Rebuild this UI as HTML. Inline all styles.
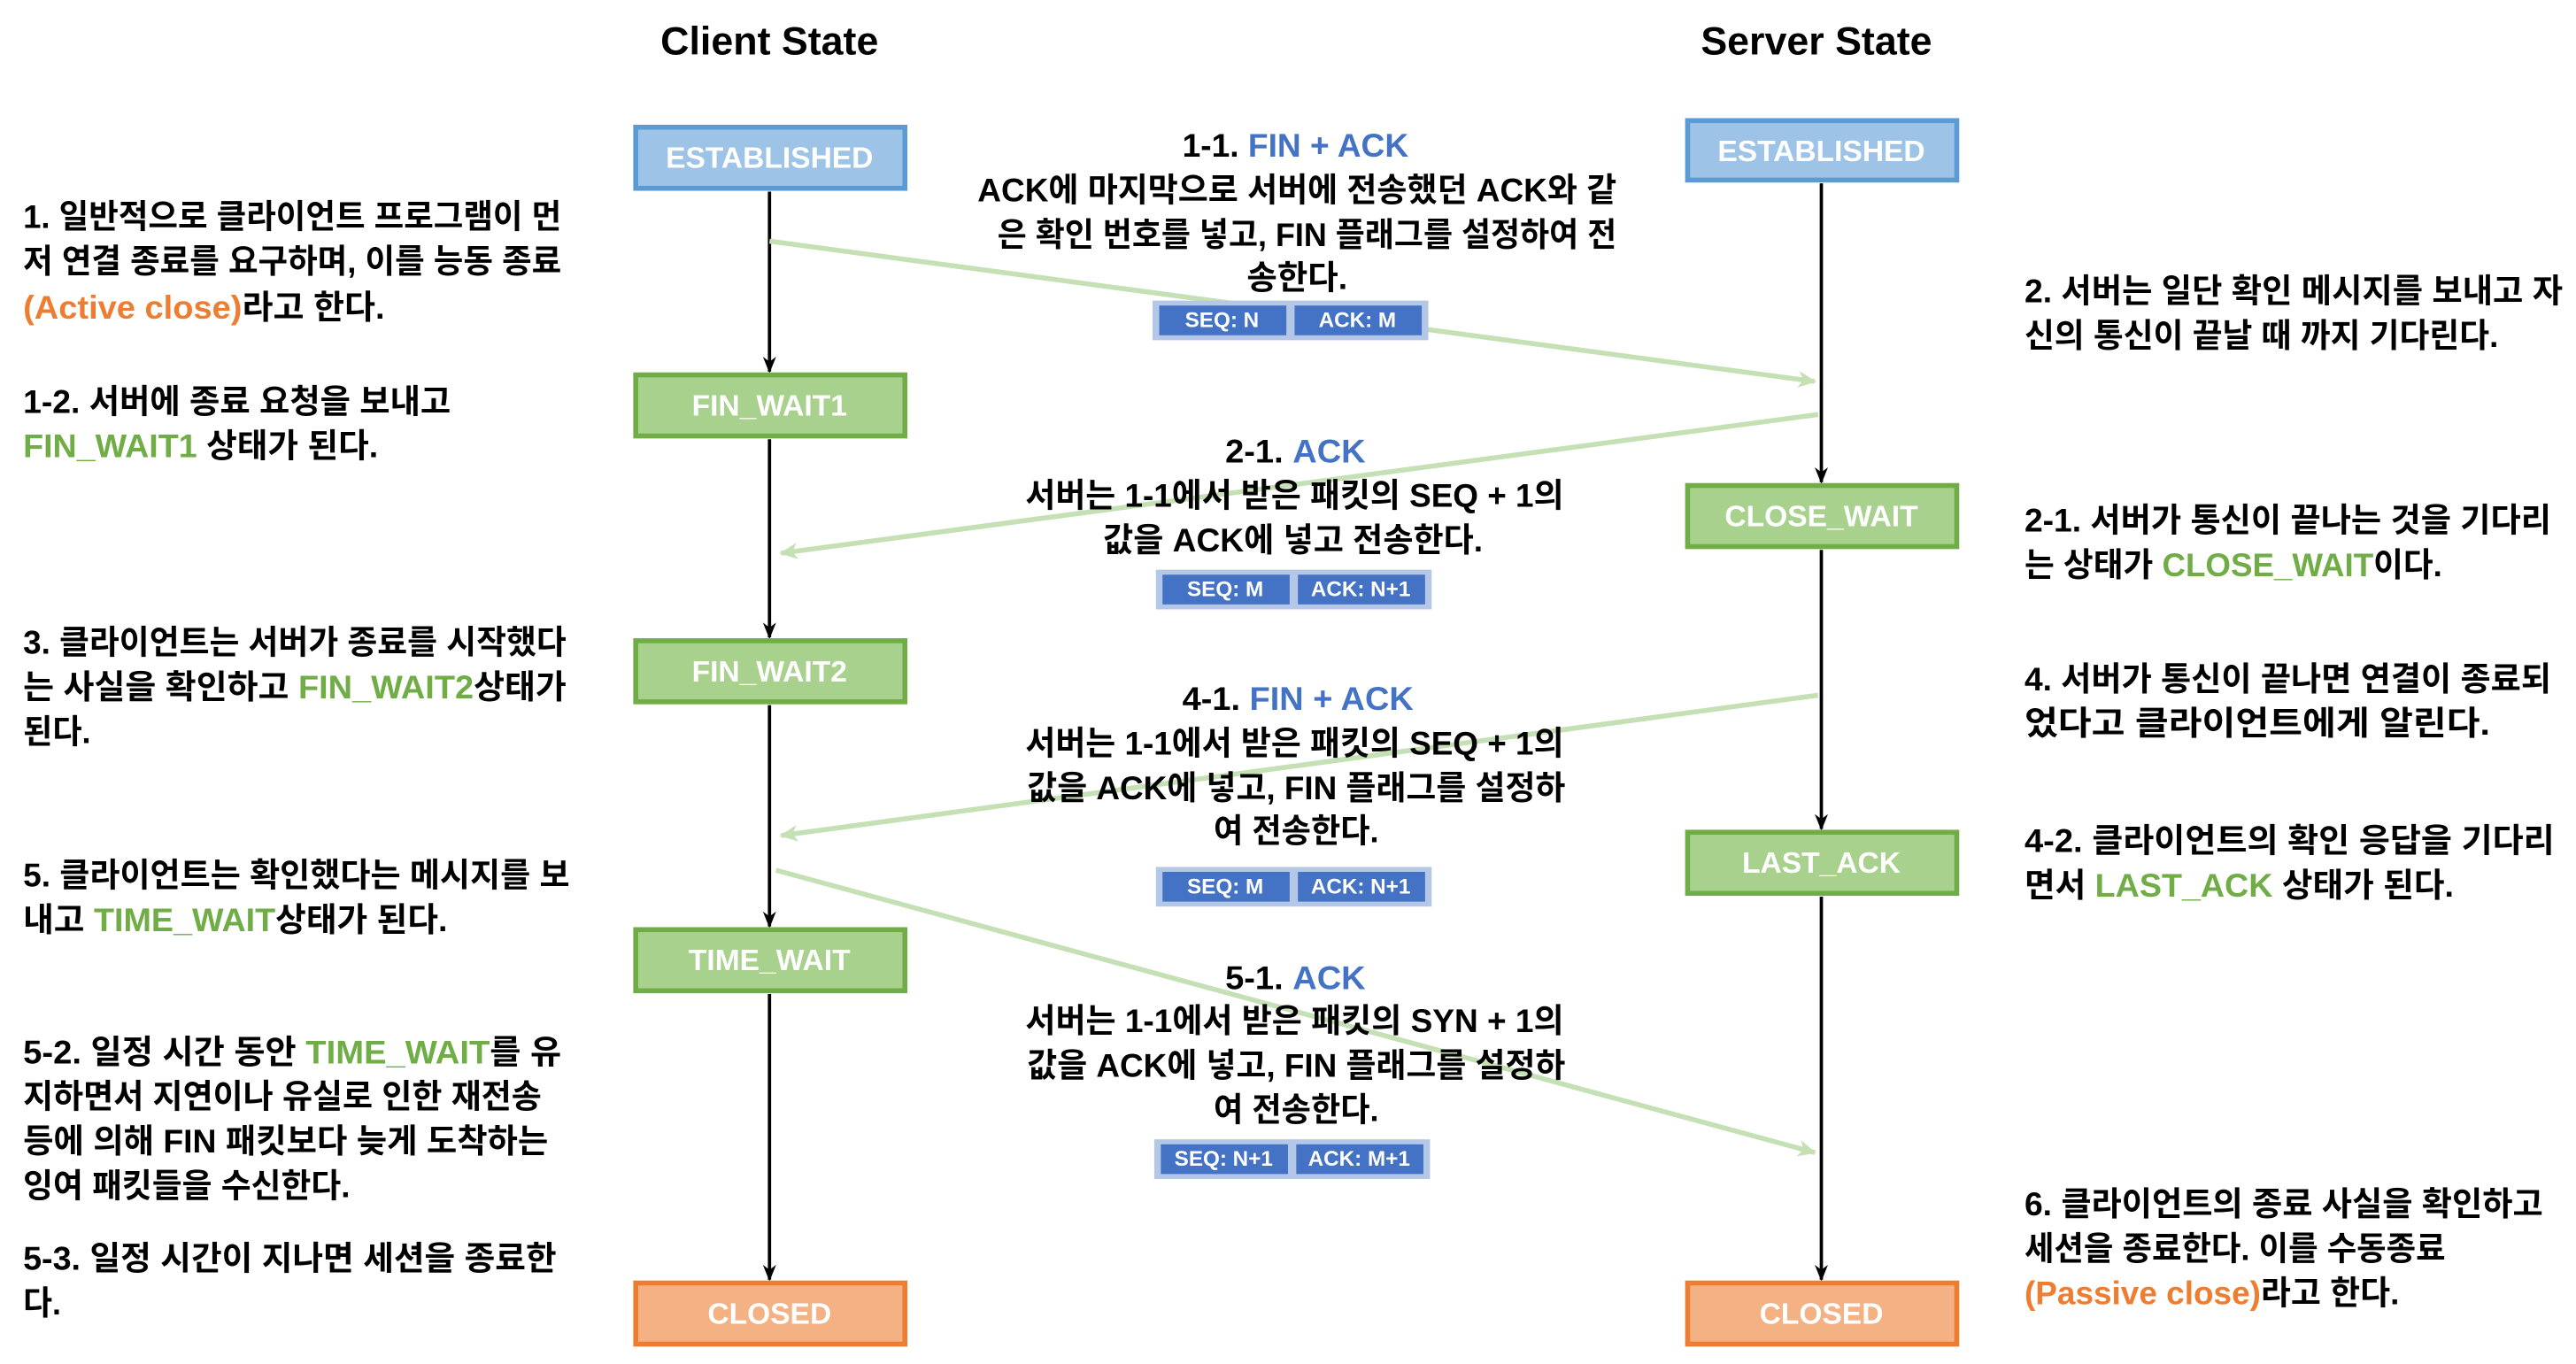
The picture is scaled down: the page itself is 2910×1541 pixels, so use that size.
<!DOCTYPE html>
<html><head><meta charset="utf-8"><style>
html,body{margin:0;padding:0;background:#fff;}
svg{display:block;}
text{font-family:"Liberation Sans","Noto Sans CJK KR",sans-serif;font-weight:bold;}
</style></head><body>
<svg width="2910" height="1541" viewBox="0 0 1560 826" xmlns="http://www.w3.org/2000/svg">
<defs>
<marker id="ab" markerWidth="10" markerHeight="10" refX="9" refY="5" orient="auto" markerUnits="userSpaceOnUse"><path d="M0,1 L10,5 L0,9 L3,5 z" fill="#000"/></marker>
<marker id="ag" markerWidth="12" markerHeight="12" refX="10" refY="6" orient="auto" markerUnits="userSpaceOnUse"><path d="M0,1 L11,6 L0,11 L3,6 z" fill="#c5e0b4"/></marker>
</defs>
<rect width="1560" height="826" fill="#fff"/>
<g font-size="24" text-anchor="middle" dominant-baseline="central" fill="#000">
<text x="466" y="25">Client State</text>
<text x="1100" y="25">Server State</text>
</g>
<!-- vertical lines -->
<g stroke="#000" stroke-width="2" marker-end="url(#ab)">
<line x1="466" y1="116" x2="466" y2="225"/>
<line x1="466" y1="266" x2="466" y2="386"/>
<line x1="466" y1="427" x2="466" y2="561"/>
<line x1="466" y1="602" x2="466" y2="775"/>
<line x1="1103" y1="111" x2="1103" y2="292"/>
<line x1="1103" y1="333" x2="1103" y2="502"/>
<line x1="1103" y1="543" x2="1103" y2="775"/>
</g>
<!-- green arrows -->
<g stroke="#c5e0b4" stroke-width="3" marker-end="url(#ag)">
<line x1="466" y1="146" x2="1099" y2="231"/>
<line x1="1101" y1="251" x2="473" y2="335"/>
<line x1="1101" y1="421" x2="473" y2="506"/>
<line x1="470" y1="527" x2="1099" y2="698"/>
</g>
<!-- boxes -->
<g stroke-width="3">
<rect x="385" y="77" width="163" height="37" fill="#9dc3e6" stroke="#5b9bd5"/>
<rect x="385" y="227" width="163" height="37" fill="#a9d18e" stroke="#70ad47"/>
<rect x="385" y="388" width="163" height="37" fill="#a9d18e" stroke="#70ad47"/>
<rect x="385" y="563" width="163" height="37" fill="#a9d18e" stroke="#70ad47"/>
<rect x="385" y="777" width="163" height="37" fill="#f4b183" stroke="#ed7d31"/>
<rect x="1022" y="73" width="163" height="36" fill="#9dc3e6" stroke="#5b9bd5"/>
<rect x="1022" y="294" width="163" height="37" fill="#a9d18e" stroke="#70ad47"/>
<rect x="1022" y="504" width="163" height="37" fill="#a9d18e" stroke="#70ad47"/>
<rect x="1022" y="777" width="163" height="37" fill="#f4b183" stroke="#ed7d31"/>
</g>
<g font-size="18" fill="#fff" text-anchor="middle" dominant-baseline="central">
<text x="466" y="96">ESTABLISHED</text>
<text x="466" y="246">FIN_WAIT1</text>
<text x="466" y="407">FIN_WAIT2</text>
<text x="466" y="582">TIME_WAIT</text>
<text x="466" y="796">CLOSED</text>
<text x="1103" y="92">ESTABLISHED</text>
<text x="1103" y="313">CLOSE_WAIT</text>
<text x="1103" y="523">LAST_ACK</text>
<text x="1103" y="796">CLOSED</text>
</g>
<!-- seq boxes -->
<g>
<rect x="698" y="182" width="167" height="24" fill="#b4c7e7"/>
<rect x="702" y="185" width="77" height="18" fill="#4472c4"/><rect x="784" y="185" width="77" height="18" fill="#4472c4"/>
<rect x="700" y="345" width="167" height="24" fill="#b4c7e7"/>
<rect x="704" y="348" width="77" height="18" fill="#4472c4"/><rect x="786" y="348" width="77" height="18" fill="#4472c4"/>
<rect x="700" y="525" width="167" height="24" fill="#b4c7e7"/>
<rect x="704" y="528" width="77" height="18" fill="#4472c4"/><rect x="786" y="528" width="77" height="18" fill="#4472c4"/>
<rect x="699" y="690" width="167" height="24" fill="#b4c7e7"/>
<rect x="703" y="693" width="77" height="18" fill="#4472c4"/><rect x="785" y="693" width="77" height="18" fill="#4472c4"/>
</g>
<g font-size="13" fill="#fff" text-anchor="middle" dominant-baseline="central">
<text x="740" y="194">SEQ: N</text><text x="822" y="194">ACK: M</text>
<text x="742" y="357">SEQ: M</text><text x="824" y="357">ACK: N+1</text>
<text x="742" y="537">SEQ: M</text><text x="824" y="537">ACK: N+1</text>
<text x="741" y="702">SEQ: N+1</text><text x="823" y="702">ACK: M+1</text>
</g>
<!-- middle labels -->
<g font-size="20" fill="#000" dominant-baseline="central" lengthAdjust="spacingAndGlyphs">
<text x="716" y="88" textLength="137" lengthAdjust="spacingAndGlyphs">1-1. <tspan fill="#4472c4">FIN + ACK</tspan></text>
<text x="592" y="115" textLength="387" lengthAdjust="spacingAndGlyphs">ACK에 마지막으로 서버에 전송했던 ACK와 같</text>
<text x="604" y="142" textLength="375" lengthAdjust="spacingAndGlyphs">은 확인 번호를 넣고, FIN 플래그를 설정하여 전</text>
<text x="755" y="168" textLength="61" lengthAdjust="spacingAndGlyphs">송한다.</text>
<text x="742" y="273" textLength="85" lengthAdjust="spacingAndGlyphs">2-1. <tspan fill="#4472c4">ACK</tspan></text>
<text x="621" y="300" textLength="326" lengthAdjust="spacingAndGlyphs">서버는 1-1에서 받은 패킷의 SEQ + 1의</text>
<text x="668" y="327" textLength="230" lengthAdjust="spacingAndGlyphs">값을 ACK에 넣고 전송한다.</text>
<text x="716" y="423" textLength="140" lengthAdjust="spacingAndGlyphs">4-1. <tspan fill="#4472c4">FIN + ACK</tspan></text>
<text x="621" y="450" textLength="326" lengthAdjust="spacingAndGlyphs">서버는 1-1에서 받은 패킷의 SEQ + 1의</text>
<text x="622" y="477" textLength="326" lengthAdjust="spacingAndGlyphs">값을 ACK에 넣고, FIN 플래그를 설정하</text>
<text x="735" y="503" textLength="100" lengthAdjust="spacingAndGlyphs">여 전송한다.</text>
<text x="742" y="592" textLength="85" lengthAdjust="spacingAndGlyphs">5-1. <tspan fill="#4472c4">ACK</tspan></text>
<text x="621" y="618" textLength="326" lengthAdjust="spacingAndGlyphs">서버는 1-1에서 받은 패킷의 SYN + 1의</text>
<text x="622" y="645" textLength="326" lengthAdjust="spacingAndGlyphs">값을 ACK에 넣고, FIN 플래그를 설정하</text>
<text x="735" y="672" textLength="100" lengthAdjust="spacingAndGlyphs">여 전송한다.</text>
</g>
<!-- left texts -->
<g font-size="20" fill="#000" dominant-baseline="central">
<text x="14" y="131" textLength="326" lengthAdjust="spacingAndGlyphs">1. 일반적으로 클라이언트 프로그램이 먼</text>
<text x="14" y="158" textLength="326" lengthAdjust="spacingAndGlyphs">저 연결 종료를 요구하며, 이를 능동 종료</text>
<text x="14" y="186" textLength="219" lengthAdjust="spacingAndGlyphs"><tspan fill="#ed7d31">(Active close)</tspan>라고 한다.</text>
<text x="14" y="243" textLength="259" lengthAdjust="spacingAndGlyphs">1-2. 서버에 종료 요청을 보내고</text>
<text x="14" y="270" textLength="215" lengthAdjust="spacingAndGlyphs"><tspan fill="#70ad47">FIN_WAIT1</tspan> 상태가 된다.</text>
<text x="14" y="389" textLength="329" lengthAdjust="spacingAndGlyphs">3. 클라이언트는 서버가 종료를 시작했다</text>
<text x="14" y="416" textLength="329" lengthAdjust="spacingAndGlyphs">는 사실을 확인하고 <tspan fill="#70ad47">FIN_WAIT2</tspan>상태가</text>
<text x="14" y="443" textLength="41" lengthAdjust="spacingAndGlyphs">된다.</text>
<text x="14" y="530" textLength="331" lengthAdjust="spacingAndGlyphs">5. 클라이언트는 확인했다는 메시지를 보</text>
<text x="14" y="557" textLength="257" lengthAdjust="spacingAndGlyphs">내고 <tspan fill="#70ad47">TIME_WAIT</tspan>상태가 된다.</text>
<text x="14" y="637" textLength="326" lengthAdjust="spacingAndGlyphs">5-2. 일정 시간 동안 <tspan fill="#70ad47">TIME_WAIT</tspan>를 유</text>
<text x="14" y="664" textLength="314" lengthAdjust="spacingAndGlyphs">지하면서 지연이나 유실로 인한 재전송</text>
<text x="14" y="691" textLength="318" lengthAdjust="spacingAndGlyphs">등에 의해 FIN 패킷보다 늦게 도착하는</text>
<text x="14" y="718" textLength="198" lengthAdjust="spacingAndGlyphs">잉여 패킷들을 수신한다.</text>
<text x="14" y="762" textLength="323" lengthAdjust="spacingAndGlyphs">5-3. 일정 시간이 지나면 세션을 종료한</text>
<text x="14" y="789" textLength="23" lengthAdjust="spacingAndGlyphs">다.</text>
</g>
<!-- right texts -->
<g font-size="20" fill="#000" dominant-baseline="central">
<text x="1226" y="176" textLength="326" lengthAdjust="spacingAndGlyphs">2. 서버는 일단 확인 메시지를 보내고 자</text>
<text x="1226" y="203" textLength="287" lengthAdjust="spacingAndGlyphs">신의 통신이 끝날 때 까지 기다린다.</text>
<text x="1226" y="315" textLength="319" lengthAdjust="spacingAndGlyphs">2-1. 서버가 통신이 끝나는 것을 기다리</text>
<text x="1226" y="342" textLength="253" lengthAdjust="spacingAndGlyphs">는 상태가 <tspan fill="#70ad47">CLOSE_WAIT</tspan>이다.</text>
<text x="1226" y="411" textLength="319" lengthAdjust="spacingAndGlyphs">4. 서버가 통신이 끝나면 연결이 종료되</text>
<text x="1226" y="438" textLength="282" lengthAdjust="spacingAndGlyphs">었다고 클라이언트에게 알린다.</text>
<text x="1226" y="509" textLength="321" lengthAdjust="spacingAndGlyphs">4-2. 클라이언트의 확인 응답을 기다리</text>
<text x="1226" y="536" textLength="260" lengthAdjust="spacingAndGlyphs">면서 <tspan fill="#70ad47">LAST_ACK</tspan> 상태가 된다.</text>
<text x="1226" y="729" textLength="314" lengthAdjust="spacingAndGlyphs">6. 클라이언트의 종료 사실을 확인하고</text>
<text x="1226" y="756" textLength="255" lengthAdjust="spacingAndGlyphs">세션을 종료한다. 이를 수동종료</text>
<text x="1226" y="783" textLength="227" lengthAdjust="spacingAndGlyphs"><tspan fill="#ed7d31">(Passive close)</tspan>라고 한다.</text>
</g>
</svg>
</body></html>
